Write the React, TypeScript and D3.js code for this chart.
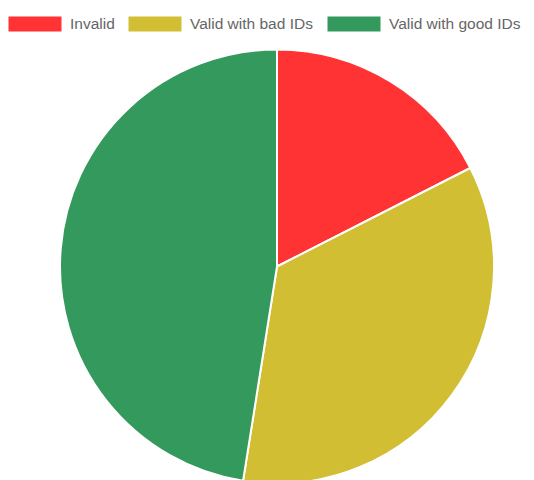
import React from "react";
import * as d3 from "d3";

const categories = ["Invalid", "Valid with bad IDs", "Valid with good IDs"];
const values = [7, 14, 19];
const colors = ["#FF3333", "#D1BE33", "#33995D"];

const W = 534;
const H = 480;
const cx = 277;
const cy = 266.5;
const R = 217;

export default function App() {
  const pie = d3.pie<number>().sort(null)(values);
  const arc = d3.arc<d3.PieArcDatum<number>>().innerRadius(0).outerRadius(R);
  const legendX = [8, 128, 327];
  return (
    <svg width={W} height={H} style={{ position: "absolute", left: 0, top: 0, display: "block" }}>
      <g transform={`translate(${cx},${cy})`}>
        {pie.map((p, i) => (
          <path key={i} d={arc(p) || ""} fill={colors[i]} stroke="#fff" strokeWidth={2} strokeLinejoin="round" />
        ))}
      </g>
      {categories.map((c, i) => (
        <g key={c} transform={`translate(${legendX[i]},16)`}>
          <rect x={0} y={0} width={54} height={16} fill={colors[i]} stroke="#fff" strokeWidth={1} />
          <text x={62} y={8} dy="0.35em" fontFamily="Liberation Sans, Arial, sans-serif" fontSize={15.5} fill="#666">
            {c}
          </text>
        </g>
      ))}
    </svg>
  );
}
